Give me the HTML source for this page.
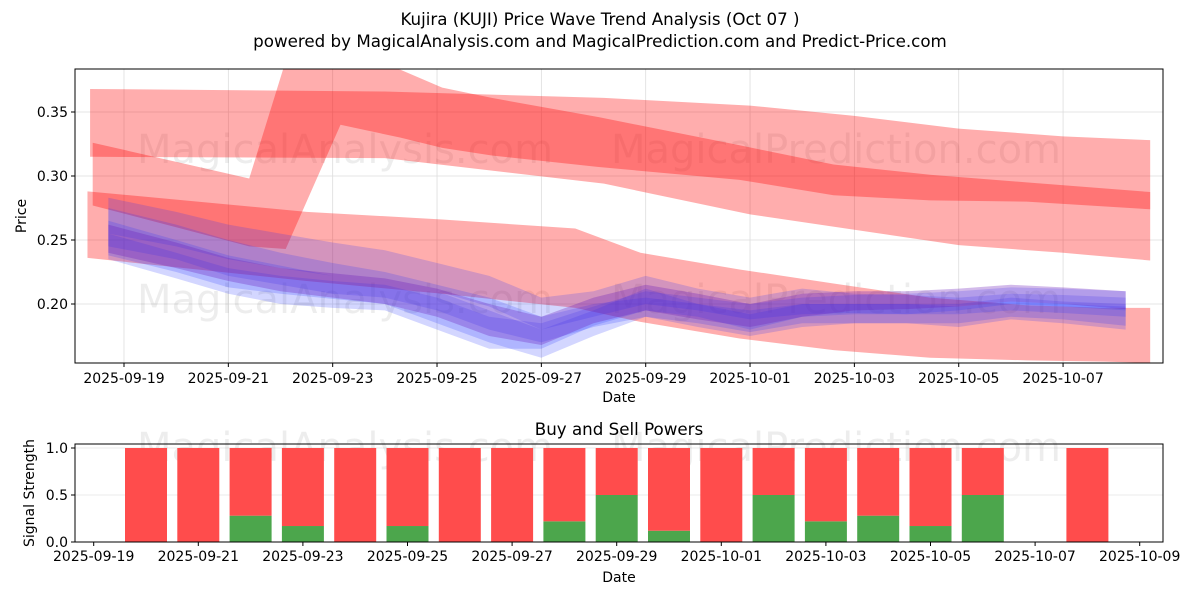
<!DOCTYPE html>
<html><head><meta charset="utf-8">
<style>
body{margin:0;background:#fff;}
svg{display:block;font-family:"DejaVu Sans","Liberation Sans",sans-serif;}
</style></head>
<body>
<svg id="chart" width="1200" height="600" viewBox="0 0 1200 600" xmlns="http://www.w3.org/2000/svg">
<rect width="1200" height="600" fill="#fff"/>
<text x="600" y="25" text-anchor="middle" font-size="16.7">Kujira (KUJI) Price Wave Trend Analysis (Oct 07 )</text>
<text x="600" y="47" text-anchor="middle" font-size="16.7">powered by MagicalAnalysis.com and MagicalPrediction.com and Predict-Price.com</text>
<g id="topPanel"></g>
<g id="botPanel"></g>
</svg>
<script>
const redAT = [-0.65, 5.0, 9.2, 12, 14, 16, 18, 19.67];
const redALo = [0.315, 0.314, 0.294, 0.270, 0.258, 0.246, 0.240, 0.234];
const redAHi = [0.368, 0.366, 0.361, 0.355, 0.347, 0.337, 0.331, 0.328];
const redBT = [-0.6, 2.4, 3.1, 4.15, 5.3, 6.1, 7.05, 9.1, 11.8, 13.6, 15.45, 17.3, 19.67];
const redBLo = [0.277, 0.245, 0.243, 0.340, 0.330, 0.322, 0.316, 0.307, 0.297, 0.285, 0.281, 0.280, 0.274];
const redBHi = [0.326, 0.298, 0.390, 0.390, 0.383, 0.369, 0.361, 0.346, 0.324, 0.309, 0.301, 0.295, 0.2875];
const redCT = [-0.7, 3.5, 6.1, 8.65, 9.9, 11.8, 13.6, 15.45, 17.3, 18.8, 19.67];
const redCLo = [0.236, 0.218, 0.208, 0.197, 0.186, 0.173, 0.164, 0.158, 0.156, 0.155, 0.154];
const redCHi = [0.288, 0.272, 0.266, 0.259, 0.240, 0.227, 0.216, 0.205, 0.199, 0.197, 0.197];
const blueT = [-0.3,1,2,3,4,5,6,7,8,9,10,11,12,13,14,15,16,17,18,19.2];
const blue1Hi = [.283,.272,.262,.255,.248,.242,.232,.222,.205,.21,.222,.212,.205,.212,.208,.207,.205,.208,.207,.205];
const blue1Lo = [.255,.245,.235,.228,.222,.218,.210,.198,.18,.19,.2,.195,.188,.192,.193,.192,.192,.195,.193,.19];
const blue2Hi = [.265,.25,.238,.23,.222,.218,.21,.195,.18,.195,.212,.2,.192,.2,.2,.2,.2,.205,.202,.2];
const blue2Lo = [.238,.225,.213,.208,.204,.2,.185,.17,.158,.175,.19,.182,.175,.182,.185,.185,.185,.19,.188,.183];
const blue3Hi = [.255,.24,.228,.222,.218,.215,.205,.19,.185,.198,.21,.205,.2,.205,.207,.208,.21,.213,.212,.21];
const blue3Lo = [.235,.22,.208,.2,.197,.195,.18,.165,.165,.183,.195,.19,.18,.19,.192,.192,.195,.2,.198,.195];
const blue4Hi = [.275,.262,.25,.24,.232,.225,.215,.205,.19,.2,.205,.2,.195,.2,.2,.2,.198,.202,.2,.198];
const blue4Lo = [.245,.235,.222,.215,.208,.205,.195,.18,.17,.182,.19,.185,.178,.185,.185,.185,.182,.188,.185,.18];
const blue5Hi = [.262,.248,.236,.228,.224,.22,.212,.2,.19,.205,.215,.208,.2,.208,.21,.21,.212,.215,.213,.21];
const blue5Lo = [.24,.228,.218,.21,.205,.2,.19,.175,.168,.185,.195,.188,.182,.19,.195,.196,.198,.202,.2,.196];
const yTicks = [0.20, 0.25, 0.30, 0.35];
const xTickLabels = ["2025-09-19","2025-09-21","2025-09-23","2025-09-25","2025-09-27","2025-09-29","2025-10-01","2025-10-03","2025-10-05","2025-10-07"];
const xTickDays = [0,2,4,6,8,10,12,14,16,18];
const barDays = [1,2,3,4,5,6,7,8,9,10,11,12,13,14,15,16,17,19];
const buyVals = [0,0,0.28,0.17,0,0.17,0,0,0.22,0.5,0.12,0,0.5,0.22,0.28,0.17,0.5,0];
const sellVals = [1,1,0.72,0.83,1,0.83,1,1,0.78,0.5,0.88,1,0.5,0.78,0.72,0.83,0.5,1];
const botYTicks = [0, 0.5, 1.0];
const botXLabels = ["2025-09-19","2025-09-21","2025-09-23","2025-09-25","2025-09-27","2025-09-29","2025-10-01","2025-10-03","2025-10-05","2025-10-07","2025-10-09"];
const botXDays = [0,2,4,6,8,10,12,14,16,18,20];

const NS="http://www.w3.org/2000/svg";
function mk(tag, attrs, parent){const e=document.createElementNS(NS,tag);for(const k in attrs)e.setAttribute(k,attrs[k]);parent.appendChild(e);return e;}

const L=75,R=1163,T=69,B=363;
const xs=t=>124+t*52.17;
const ys=v=>304-(v-0.20)*1280;
const topG=document.getElementById('topPanel');
const defs=mk('defs',{},topG);
const cp=mk('clipPath',{id:'clipTop'},defs);
mk('rect',{x:L,y:T,width:R-L,height:B-T},cp);
xTickDays.forEach(d=>{const g=mk('line',{x1:xs(d),x2:xs(d),y1:T,y2:B,stroke:'#ddd','stroke-width':0.8},topG);

});
yTicks.forEach(v=>{const g=mk('line',{x1:L,x2:R,y1:ys(v),y2:ys(v),stroke:'#ddd','stroke-width':0.8},topG);

});
[[345,163,'MagicalAnalysis.com'],[836,163,'MagicalPrediction.com'],[345,313,'MagicalAnalysis.com'],[836,313,'MagicalPrediction.com']].forEach(w=>{
const e=mk('text',{x:w[0],y:w[1],'text-anchor':'middle','font-size':40,fill:'#000','fill-opacity':0.07},topG);e.textContent=w[2];

});
const bands=mk('g',{'clip-path':'url(#clipTop)'},topG);
function band(ts,lo,hi,color,op,name){
 let d='M'+ts.map((t,i)=>xs(t)+','+ys(hi[i])).join('L');
 for(let i=ts.length-1;i>=0;i--)d+='L'+xs(ts[i])+','+ys(lo[i]);
 const p=mk('path',{d:d+'Z',fill:color,'fill-opacity':op},bands);
 
 
}
band(redAT,redALo,redAHi,'#ff0000',0.32,'red-band-upper');
band(redBT,redBLo,redBHi,'#ff0000',0.32,'red-band-middle');
band(redCT,redCLo,redCHi,'#ff0000',0.32,'red-band-lower');
band(blueT,blue1Lo,blue1Hi,'#2233ff',0.2,'blue-band-1');
band(blueT,blue2Lo,blue2Hi,'#2233ff',0.2,'blue-band-2');
band(blueT,blue3Lo,blue3Hi,'#2233ff',0.2,'blue-band-3');
band(blueT,blue4Lo,blue4Hi,'#2233ff',0.2,'blue-band-4');
band(blueT,blue5Lo,blue5Hi,'#6a1ab8',0.3,'blue-band-5');
const fr=mk('rect',{x:L,y:T,width:R-L,height:B-T,fill:'none',stroke:'#000','stroke-width':1},topG);


yTicks.forEach(v=>{mk('line',{x1:L-4,x2:L,y1:ys(v),y2:ys(v),stroke:'#000'},topG);
const e=mk('text',{x:L-7,y:ys(v)+5,'text-anchor':'end','font-size':14},topG);e.textContent=v.toFixed(2);

});
xTickDays.forEach((d,i)=>{mk('line',{x1:xs(d),x2:xs(d),y1:B,y2:B+4,stroke:'#000'},topG);
const e=mk('text',{x:xs(d),y:B+20,'text-anchor':'middle','font-size':14},topG);e.textContent=xTickLabels[i];

});
let e=mk('text',{x:619,y:402,'text-anchor':'middle','font-size':14},topG);e.textContent='Date';


e=mk('text',{x:26,y:216,'text-anchor':'middle','font-size':14,transform:'rotate(-90 26 216)'},topG);e.textContent='Price';



const bL=75,bR=1163,bT=444,bB=542;
const bx=d=>93.7+d*52.3;
const by=v=>542-v*94;
const botG=document.getElementById('botPanel');
botYTicks.forEach(v=>{const g=mk('line',{x1:bL,x2:bR,y1:by(v),y2:by(v),stroke:'#e4e4e4','stroke-width':0.8},botG);

});
[[345,461,'MagicalAnalysis.com'],[836,461,'MagicalPrediction.com']].forEach(w=>{
const t=mk('text',{x:w[0],y:w[1],'text-anchor':'middle','font-size':40,fill:'#000','fill-opacity':0.07},botG);t.textContent=w[2];

});
barDays.forEach((d,i)=>{
 const w=42,x=bx(d)-w/2;
 const g=mk('rect',{x:x,y:by(buyVals[i]),width:w,height:by(0)-by(buyVals[i]),fill:'#4ca64c'},botG);
 
 
 const r=mk('rect',{x:x,y:by(buyVals[i]+sellVals[i]),width:w,height:by(buyVals[i])-by(buyVals[i]+sellVals[i]),fill:'#ff4c4c'},botG);
 
 
});
const bf=mk('rect',{x:bL,y:bT,width:bR-bL,height:bB-bT,fill:'none',stroke:'#000','stroke-width':1},botG);


botYTicks.forEach(v=>{mk('line',{x1:bL-4,x2:bL,y1:by(v),y2:by(v),stroke:'#000'},botG);
const t=mk('text',{x:bL-7,y:by(v)+5,'text-anchor':'end','font-size':14},botG);t.textContent=v.toFixed(1);

});
botXDays.forEach((d,i)=>{mk('line',{x1:bx(d),x2:bx(d),y1:bB,y2:bB+4,stroke:'#000'},botG);
const t=mk('text',{x:bx(d),y:bB+19,'text-anchor':'middle','font-size':14},botG);t.textContent=botXLabels[i];

});
e=mk('text',{x:619,y:582,'text-anchor':'middle','font-size':14},botG);e.textContent='Date';


e=mk('text',{x:34,y:493,'text-anchor':'middle','font-size':14,transform:'rotate(-90 34 493)'},botG);e.textContent='Signal Strength';


e=mk('text',{x:619,y:435,'text-anchor':'middle','font-size':16.7},botG);e.textContent='Buy and Sell Powers';


</script>
</body></html>
